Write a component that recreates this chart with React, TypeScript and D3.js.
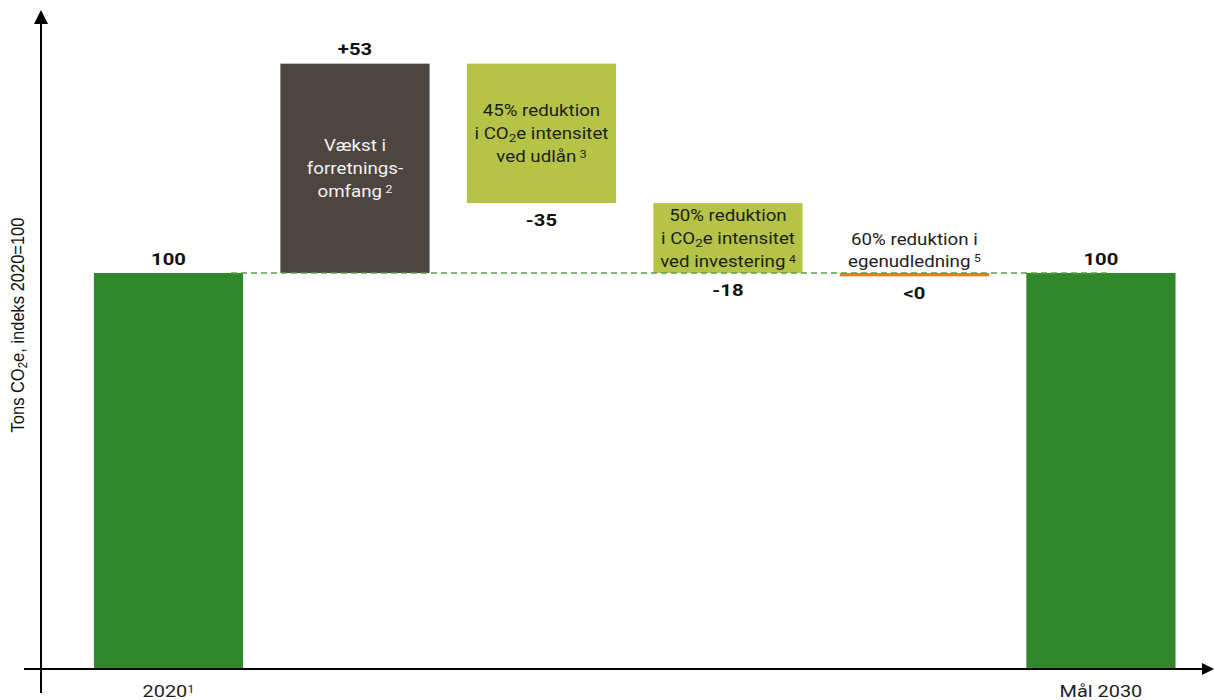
import React from "react";
import * as d3 from "d3";

const categories = ["2020", "growth", "lending", "investment", "own", "2030"];
const bottomLabels = ["2020", "", "", "", "", "Mål 2030"];
const bottomSup = ["1", "", "", "", "", ""];
const startValue = 100;
const deltas = [53, -35.3, -17.7, -0.85];
const endValue = 100;
const valueLabels = ["100", "+53", "-35", "-18", "<0", "100"];

type Seg = { t: string; sub?: boolean; sup?: boolean };
const barTexts: Seg[][][] = [
  [],
  [[{ t: "Vækst i" }], [{ t: "forretnings-" }], [{ t: "omfang" }, { t: "2", sup: true }]],
  [[{ t: "45% reduktion" }], [{ t: "i CO" }, { t: "2", sub: true }, { t: "e intensitet" }], [{ t: "ved udlån" }, { t: "3", sup: true }]],
  [[{ t: "50% reduktion" }], [{ t: "i CO" }, { t: "2", sub: true }, { t: "e intensitet" }], [{ t: "ved investering" }, { t: "4", sup: true }]],
  [[{ t: "60% reduktion i" }], [{ t: "egenudledning" }, { t: "5", sup: true }]],
  [],
];
const kinds = ["total", "up", "down", "down", "down", "total"];
const colors: Record<string, string> = {
  total: "#30882a",
  up: "#4d4540",
  lending: "#b5c447",
  investment: "#b5c447",
  own: "#f07d1a",
};

const SX = 1.17;

function SegText({ segs, x, y, size, fill, weight }: { segs: Seg[]; x: number; y: number; size: number; fill: string; weight?: number }) {
  const out: React.ReactNode[] = [];
  let shift = 0;
  segs.forEach((s, i) => {
    let target = 0;
    if (s.sub) target = size * 0.18;
    if (s.sup) target = -size * 0.26;
    const dy = target - shift;
    shift = target;
    out.push(
      <tspan key={i} dy={dy} dx={s.sup ? 3 : 0} fontSize={s.sub ? size * 0.72 : s.sup ? size * 0.65 : size}>
        {s.t}
      </tspan>
    );
  });
  return (
    <text transform={`translate(${x},${y}) scale(${SX},1)`} textAnchor="middle" fill={fill} fontSize={size} fontWeight={weight} fontFamily="Roboto, sans-serif">
      {out}
    </text>
  );
}

export default function App() {
  const W = 1214;
  const H = 700;
  const x = d3.scaleBand<string>().domain(categories).range([56.6, 1212.8]).paddingInner(0.2).paddingOuter(0.2);
  const y = d3.scaleLinear().domain([0, 100]).range([668, 273]);
  const bw = x.bandwidth();

  const bars: { c: string; lo: number; hi: number; kind: string }[] = [];
  let run = startValue;
  bars.push({ c: categories[0], lo: 0, hi: startValue, kind: "total" });
  deltas.forEach((d, i) => {
    const next = run + d;
    bars.push({ c: categories[i + 1], lo: Math.min(run, next), hi: Math.max(run, next), kind: kinds[i + 1] });
    run = next;
  });
  bars.push({ c: categories[5], lo: 0, hi: endValue, kind: "total" });

  const fillFor = (i: number) => {
    const k = bars[i].kind;
    if (k === "total") return colors.total;
    if (k === "up") return colors.up;
    return colors[categories[i]];
  };

  const dashY = y(100);
  const dashX1 = 231;
  const dashX2 = (x(categories[5]) as number) + bw * 0.55;

  return (
    <svg width={W} height={H} style={{ position: "absolute", left: 0, top: 0, background: "#fff" }}>
      {bars.map((b, i) => {
        const x0 = x(b.c) as number;
        return <rect key={b.c} x={x0} y={y(b.hi)} width={bw} height={Math.max(0, y(b.lo) - y(b.hi))} fill={fillFor(i)} />;
      })}
      <line x1={dashX1} x2={dashX2} y1={dashY} y2={dashY} stroke="#55a04a" strokeWidth={1.3} strokeDasharray="6,4" />
      {bars.map((b, i) => {
        const cx = (x(b.c) as number) + bw / 2;
        const isDown = b.kind === "down";
        const ly = isDown ? y(b.lo) + 23 : y(b.hi) - 8.5;
        return (
          <text key={"v" + i} transform={`translate(${cx},${ly}) scale(${SX},1)`} textAnchor="middle" fontFamily="Roboto, sans-serif" fontWeight={700} fontSize={17.3} fill="#111">
            {valueLabels[i]}
          </text>
        );
      })}
      {bars.map((b, i) => {
        const lines = barTexts[i];
        if (!lines.length) return null;
        const cx = (x(b.c) as number) + bw / 2;
        const isOwn = categories[i] === "own";
        const fill = b.kind === "up" ? "#f2f2f2" : "#1e1e1e";
        const gap = isOwn ? 22 : 23;
        const n = lines.length;
        return (
          <g key={"t" + i}>
            {lines.map((segs, j) => {
              const by = isOwn
                ? y(b.hi) - 6.5 - (n - 1 - j) * gap
                : (y(b.hi) + y(b.lo)) / 2 + 6 + (j - (n - 1) / 2) * gap;
              return <SegText key={j} segs={segs} x={cx} y={by} size={16} fill={fill} />;
            })}
          </g>
        );
      })}
      {bottomLabels.map((l, i) =>
        l ? (
          <text key={"b" + i} transform={`translate(${(x(categories[i]) as number) + bw / 2},697) scale(${SX},1)`} textAnchor="middle" fontFamily="Roboto, sans-serif" fontSize={17} fill="#1e1e1e">
            {l}
            {bottomSup[i] ? (
              <tspan dy={-4.5} fontSize={11}>
                {bottomSup[i]}
              </tspan>
            ) : null}
          </text>
        ) : null
      )}
      <line x1={41} x2={41} y1={693} y2={22} stroke="#000" strokeWidth={2} />
      <path d="M41,10 L34,24 L48,24 Z" fill="#000" />
      <line x1={24} x2={1204} y1={669} y2={669} stroke="#000" strokeWidth={2} />
      <path d="M1214,669 L1202,663 L1202,675 Z" fill="#000" />
      <text transform="translate(23.5,325) scale(1.1,1) rotate(-90)" textAnchor="middle" fontFamily="'Liberation Sans', Arial, sans-serif" fontSize={16.5} fill="#111">
        Tons CO
        <tspan dy={3.5} fontSize={11.5}>2</tspan>
        <tspan dy={-3.5}>e, indeks 2020=100</tspan>
      </text>
    </svg>
  );
}
